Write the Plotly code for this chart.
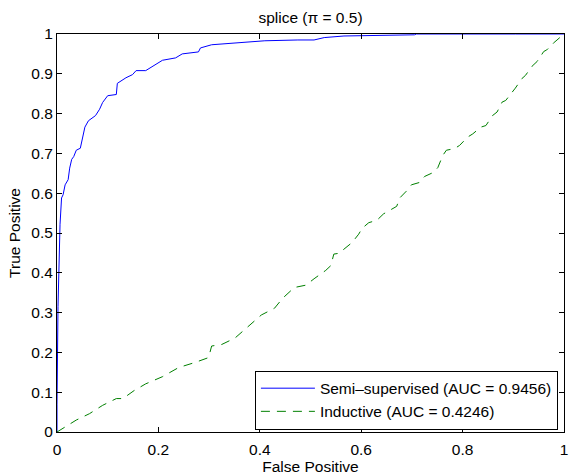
import plotly.graph_objects as go

# Semi-supervised ROC curve
semi_fpr = [0, 0, 0.002, 0.004, 0.006, 0.009, 0.012, 0.016, 0.022, 0.025, 0.029, 0.033, 0.038,
            0.046, 0.050, 0.055, 0.062, 0.076, 0.084, 0.090, 0.100, 0.117, 0.119, 0.136, 0.149,
            0.156, 0.175, 0.195, 0.208, 0.234, 0.247, 0.279, 0.283, 0.305, 0.344, 0.371, 0.41,
            0.475, 0.507, 0.527, 0.566, 0.705, 0.709, 0.904, 1.0]
semi_tpr = [0, 0.07, 0.315, 0.464, 0.522, 0.588, 0.596, 0.621, 0.634, 0.663, 0.685, 0.692, 0.708,
            0.713, 0.737, 0.766, 0.782, 0.795, 0.811, 0.828, 0.845, 0.848, 0.876, 0.890, 0.898,
            0.908, 0.908, 0.923, 0.934, 0.940, 0.950, 0.955, 0.965, 0.973, 0.977, 0.980, 0.983,
            0.985, 0.985, 0.991, 0.995, 0.998, 1.0, 1.0, 1.0]

# Inductive ROC curve
ind_fpr = [0, 0.038, 0.064, 0.090, 0.117, 0.130, 0.152, 0.175, 0.208, 0.240, 0.273, 0.299, 0.305,
           0.325, 0.351, 0.377, 0.403, 0.429, 0.445, 0.468, 0.491, 0.507, 0.530, 0.540, 0.546,
           0.556, 0.572, 0.582, 0.595, 0.602, 0.615, 0.631, 0.644, 0.654, 0.670, 0.676, 0.689,
           0.699, 0.715, 0.725, 0.742, 0.751, 0.761, 0.768, 0.784, 0.794, 0.81, 0.820, 0.836,
           0.846, 0.859, 0.868, 0.878, 0.885, 0.898, 0.904, 0.917, 0.924, 0.937, 0.947, 0.96,
           0.966, 0.979, 0.989, 1.0]
ind_tpr = [0, 0.030, 0.046, 0.067, 0.084, 0.084, 0.104, 0.121, 0.139, 0.162, 0.175, 0.187, 0.216,
           0.220, 0.236, 0.266, 0.294, 0.311, 0.336, 0.363, 0.369, 0.385, 0.406, 0.418, 0.447,
           0.449, 0.466, 0.476, 0.497, 0.512, 0.526, 0.532, 0.548, 0.555, 0.567, 0.588, 0.605,
           0.621, 0.627, 0.642, 0.652, 0.664, 0.695, 0.708, 0.712, 0.720, 0.741, 0.749, 0.766,
           0.770, 0.795, 0.804, 0.829, 0.833, 0.854, 0.864, 0.888, 0.896, 0.919, 0.931, 0.956,
           0.960, 0.977, 0.989, 1.0]

series_names = ["Semi\u2013supervised (AUC = 0.9456)", "Inductive (AUC = 0.4246)"]
title_text = "splice (\u03c0 = 0.5)"
x_title = "False Positive"
y_title = "True Positive"
x_ticks = [0, 0.2, 0.4, 0.6, 0.8, 1]
y_ticks = [0, 0.1, 0.2, 0.3, 0.4, 0.5, 0.6, 0.7, 0.8, 0.9, 1]

FONT = "Liberation Sans, Arial, Helvetica, sans-serif"
FS = 15.5

fig = go.Figure()
fig.add_trace(go.Scatter(x=semi_fpr, y=semi_tpr, mode="lines", name=series_names[0],
                         line=dict(color="#0000FF", width=1)))
fig.add_trace(go.Scatter(x=ind_fpr, y=ind_tpr, mode="lines", name=series_names[1],
                         line=dict(color="#008000", width=1, dash="9px,7px")))

axis_common = dict(showline=True, linecolor="black", linewidth=1, mirror="ticks",
                   ticks="inside", ticklen=5, tickcolor="black", tickwidth=1,
                   showgrid=False, zeroline=False,
                   tickfont=dict(family=FONT, size=FS, color="black"))

fig.update_layout(
    width=573, height=476,
    margin=dict(l=57, r=5, t=34, b=39),
    paper_bgcolor="white", plot_bgcolor="white",
    font=dict(family=FONT, size=FS, color="black"),
    title=dict(text=title_text, x=0.5, xref="paper", y=1 - 17.5 / 476, yref="container",
               yanchor="middle", xanchor="center",
               font=dict(family=FONT, size=FS, color="black")),
    xaxis=dict(range=[0, 1], tickvals=x_ticks, ticktext=[f"{v:g}" for v in x_ticks],
               ticklabelstandoff=3,
               title=dict(text=x_title, standoff=3, font=dict(size=FS)), **axis_common),
    yaxis=dict(range=[0, 1], tickvals=y_ticks, ticktext=[f"{v:g}" for v in y_ticks],
               title=dict(text=y_title, standoff=6, font=dict(size=FS)), **axis_common),
    legend=dict(x=0.988, xanchor="right", y=0.006, yanchor="bottom",
                bgcolor="white", bordercolor="black", borderwidth=1,
                font=dict(family=FONT, size=FS, color="black"),
                itemwidth=54, tracegroupgap=0),
    showlegend=True,
)

fig.write_html("out.html", config={"displayModeBar": False},
               post_script="document.body.style.margin='0';")
